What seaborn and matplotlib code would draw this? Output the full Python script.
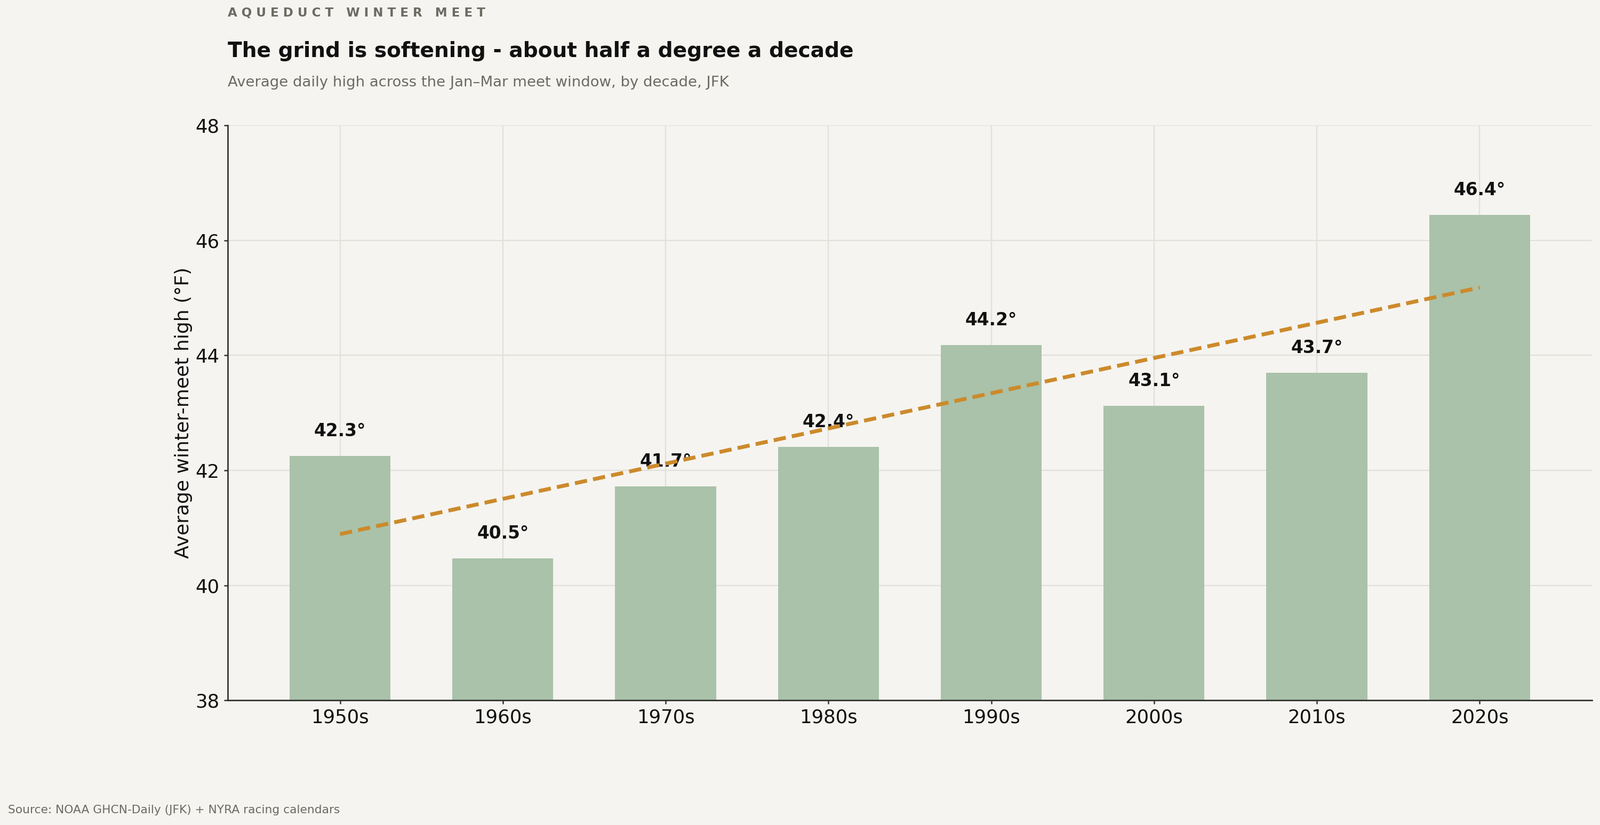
import numpy as np
import pandas as pd
import matplotlib.pyplot as plt
import seaborn as sns

# --- data ---
decades = ['1950s', '1960s', '1970s', '1980s', '1990s', '2000s', '2010s', '2020s']
avg_high = [42.25, 40.47, 41.72, 42.41, 44.18, 43.12, 43.70, 46.44]
value_labels = ['42.3°', '40.5°', '41.7°', '42.4°', '44.2°', '43.1°', '43.7°', '46.4°']

bg = '#f5f4f0'
bar_color = '#a9c2a9'
trend_color = '#cc8a2b'
grey_text = '#6b6b63'
ink = '#111111'

sns.set_theme(style='whitegrid')
plt.rcParams['font.family'] = ['DejaVu Sans']

df = pd.DataFrame({'decade': decades, 'high': avg_high})

fig = plt.figure(figsize=(15, 7.735), dpi=200, facecolor=bg)
ax = fig.add_axes([0.1423, 0.151, 0.8527, 0.697])
ax.set_facecolor(bg)

sns.barplot(data=df, x='decade', y='high', color=bar_color, width=0.62,
            saturation=1, linewidth=0, ax=ax, zorder=2)

# linear trend through the decade means
x = np.arange(len(decades))
slope, intercept = np.polyfit(x, avg_high, 1)
ax.plot(x, slope * x + intercept, color=trend_color, lw=2.6,
        ls=(0, (3.2, 1.6)), zorder=4)

for xi, v, lab in zip(x, avg_high, value_labels):
    ax.text(xi, v + 0.28, lab, ha='center', va='bottom', fontsize=11.8,
            fontweight='bold', color=ink, zorder=3)

ax.set_ylim(38, 48)
ax.set_xlim(-0.69, 7.69)
ax.set_yticks([38, 40, 42, 44, 46, 48])
ax.set_xlabel('')
ax.set_ylabel('Average winter-meet high (°F)', fontsize=13, color=ink, labelpad=2)
ax.tick_params(axis='both', labelsize=12.8, colors='#333333', labelcolor=ink,
               length=2.5, width=0.9, pad=3, bottom=True, left=True)

ax.grid(True, color='#e2e0da', lw=0.8, zorder=0)
ax.set_axisbelow(True)
for s in ['top', 'right']:
    ax.spines[s].set_visible(False)
for s in ['left', 'bottom']:
    ax.spines[s].set_color('#333333')
    ax.spines[s].set_linewidth(1.0)

# header text
fig.text(0.1423, 0.9915, 'A Q U E D U C T   W I N T E R   M E E T', fontsize=8.3,
         fontweight='bold', color=grey_text, va='top', ha='left')
fig.text(0.1423, 0.938, 'The grind is softening - about half a degree a decade',
         fontsize=14.1, fontweight='bold', color=ink, va='center', ha='left')
fig.text(0.1423, 0.9, 'Average daily high across the Jan–Mar meet window, by decade, JFK',
         fontsize=9.9, color=grey_text, va='center', ha='left')
fig.text(0.005, 0.018, 'Source: NOAA GHCN-Daily (JFK) + NYRA racing calendars',
         fontsize=7.85, color=grey_text, va='center', ha='left')

fig.savefig('out.png', dpi=200, facecolor=bg)
